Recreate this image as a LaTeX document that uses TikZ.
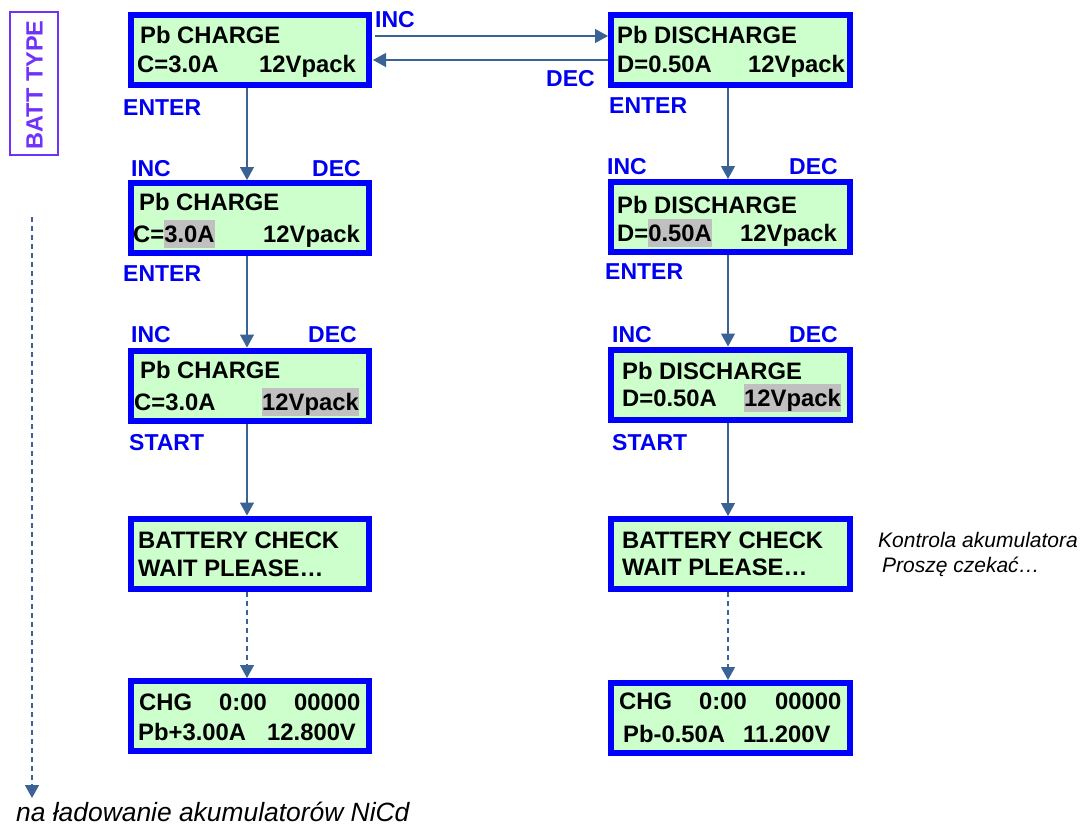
\documentclass[tikz,border=0pt]{standalone}
\usepackage{fontspec}
\setmainfont{Liberation Sans}
\usetikzlibrary{arrows.meta}
\definecolor{lcdfill}{RGB}{204,255,204}
\definecolor{lcdblue}{RGB}{0,0,255}
\definecolor{lblblue}{RGB}{0,0,240}
\definecolor{arrblue}{RGB}{58,98,148}
\definecolor{hlgrey}{RGB}{192,192,192}
\definecolor{battviolet}{RGB}{110,50,250}
\newcommand\hlmark[1]{\setbox0\hbox{#1}\rlap{\textcolor{hlgrey}{\rule[-6pt]{\wd0}{28.5pt}}}\box0}
\begin{document}
\begin{tikzpicture}[x=1pt,y=-1pt,
  lcd/.style={draw=lcdblue,fill=lcdfill,line width=6pt,minimum width=238pt,minimum height=70pt,inner sep=0pt},
  lcdtxt/.style={anchor=base west,inner sep=0pt,font=\fontsize{23.8}{28}\selectfont\bfseries},
  lbl/.style={anchor=base west,inner sep=0pt,text=lblblue,font=\fontsize{23}{27}\selectfont\bfseries},
  note/.style={anchor=base west,inner sep=0pt,font=\fontsize{21}{25}\selectfont\itshape},
  arr/.style={draw=arrblue,line width=1.3pt,-{Triangle[width=14pt,length=13pt]}},
  darr/.style={arr,dash pattern=on 5pt off 4pt}]
\useasboundingbox (0,0) rectangle (1081,825);
% BATT TYPE
\node[draw=battviolet,line width=2pt,minimum width=48pt,minimum height=143pt,inner sep=0pt] (batt) at (34,83.5) {};
\node[rotate=90,text=battviolet,inner sep=0pt,font=\fontsize{23.5}{27}\selectfont\bfseries] (battlbl) at (34.5,85) {BATT TYPE};
\coordinate (dstart) at (32,217);
\coordinate (dend) at (32,798);
\draw[darr] (dstart) -- (dend);
\node[anchor=base west,inner sep=0pt,font=\fontsize{26.4}{30}\selectfont\itshape] (nicd) at (16,821) {na ładowanie akumulatorów NiCd};
% left column boxes
\node[lcd] (L1) at (250,50) {};
\node[lcd] (L2) at (250,218) {};
\node[lcd] (L3) at (250,385.5) {};
\node[lcd] (L4) at (250,553.5) {};
\node[lcd] (L5) at (250,716) {};
% right column boxes
\node[lcd,minimum width=239pt] (R1) at (730.5,50) {};
\node[lcd,minimum width=239pt] (R2) at (730.5,217) {};
\node[lcd,minimum width=239pt] (R3) at (730.5,384.5) {};
\node[lcd,minimum width=239pt] (R4) at (730.5,554) {};
\node[lcd,minimum width=239pt] (R5) at (730.5,718) {};
% left texts
\node[lcdtxt] (L1a) at (140,43) {Pb CHARGE};
\node[lcdtxt] (L1b) at (137,72) {C=3.0A};
\node[lcdtxt] (L1c) at (259,72) {12Vpack};
\node[lcdtxt] (L2a) at (139,210) {Pb CHARGE};
\node[lcdtxt] (L2b) at (133,242) {C=\hlmark{3.0A}};
\node[lcdtxt] (L2c) at (263,242) {12Vpack};
\node[lcdtxt] (L3a) at (140,378) {Pb CHARGE};
\node[lcdtxt] (L3b) at (134,410) {C=3.0A};
\node[lcdtxt] (L3c) at (262,410) {\hlmark{12Vpack}};
\node[lcdtxt] (L4a) at (138,548) {BATTERY CHECK};
\node[lcdtxt] (L4b) at (138,576) {WAIT PLEASE…};
\node[lcdtxt] (L5a) at (139,710) {CHG};
\node[lcdtxt] (L5b) at (219,710) {0:00};
\node[lcdtxt] (L5c) at (294,710) {00000};
\node[lcdtxt] (L5d) at (138,740) {Pb+3.00A};
\node[lcdtxt] (L5e) at (267,740) {12.800V};
% right texts
\node[lcdtxt] (R1a) at (617,43) {Pb DISCHARGE};
\node[lcdtxt] (R1b) at (617,72) {D=0.50A};
\node[lcdtxt] (R1c) at (748,72) {12Vpack};
\node[lcdtxt] (R2a) at (617,213) {Pb DISCHARGE};
\node[lcdtxt] (R2b) at (617,241) {D=\hlmark{0.50A}};
\node[lcdtxt] (R2c) at (740,241) {12Vpack};
\node[lcdtxt] (R3a) at (622,379) {Pb DISCHARGE};
\node[lcdtxt] (R3b) at (622,406) {D=0.50A};
\node[lcdtxt] (R3c) at (744,406) {\hlmark{12Vpack}};
\node[lcdtxt] (R4a) at (622,548) {BATTERY CHECK};
\node[lcdtxt] (R4b) at (622,575) {WAIT PLEASE…};
\node[lcdtxt] (R5a) at (619,709) {CHG};
\node[lcdtxt] (R5b) at (699,709) {0:00};
\node[lcdtxt] (R5c) at (775,709) {00000};
\node[lcdtxt] (R5d) at (623,742) {Pb-0.50A};
\node[lcdtxt] (R5e) at (743,742) {11.200V};
% labels
\node[lbl] (incT) at (375,27) {INC};
\node[lbl] (decT) at (546,86) {DEC};
\node[lbl] (entL1) at (123,115) {ENTER};
\node[lbl] (entR1) at (609,113) {ENTER};
\node[lbl] (incL2) at (131,176) {INC};
\node[lbl] (decL2) at (312,176) {DEC};
\node[lbl] (incR2) at (607,174) {INC};
\node[lbl] (decR2) at (789,174) {DEC};
\node[lbl] (entL2) at (123,281) {ENTER};
\node[lbl] (entR2) at (605,279) {ENTER};
\node[lbl] (incL3) at (131,342) {INC};
\node[lbl] (decL3) at (308,342) {DEC};
\node[lbl] (incR3) at (612,342) {INC};
\node[lbl] (decR3) at (789,342) {DEC};
\node[lbl] (stL) at (129,450) {START};
\node[lbl] (stR) at (612,450) {START};
% notes
\node[note] (kon) at (878,547) {Kontrola akumulatora};
\node[note] (pro) at (882,572) {Proszę czekać…};
% connectors
\draw[arr] ([xshift=3pt,yshift=14pt]L1.east) -- ([yshift=14pt]R1.west);
\draw[arr] ([yshift=-10pt]R1.west) -- ([xshift=1pt,yshift=-10pt]L1.east);
\draw[arr] ([xshift=-3pt]L1.south) -- ([xshift=-3pt]L2.north);
\draw[arr] ([xshift=-3pt]L2.south) -- ([xshift=-3pt]L3.north);
\draw[arr] ([xshift=-3pt]L3.south) -- ([xshift=-3pt]L4.north);
\draw[darr] ([xshift=-3pt]L4.south) -- ([xshift=-3pt]L5.north);
\draw[arr] ([xshift=-2.5pt]R1.south) -- ([xshift=-2.5pt]R2.north);
\draw[arr] ([xshift=-2.5pt]R2.south) -- ([xshift=-2.5pt]R3.north);
\draw[arr] ([xshift=-2.5pt]R3.south) -- ([xshift=-2.5pt]R4.north);
\draw[darr] ([xshift=-2.5pt]R4.south) -- ([xshift=-2.5pt]R5.north);
\end{tikzpicture}
\end{document}
